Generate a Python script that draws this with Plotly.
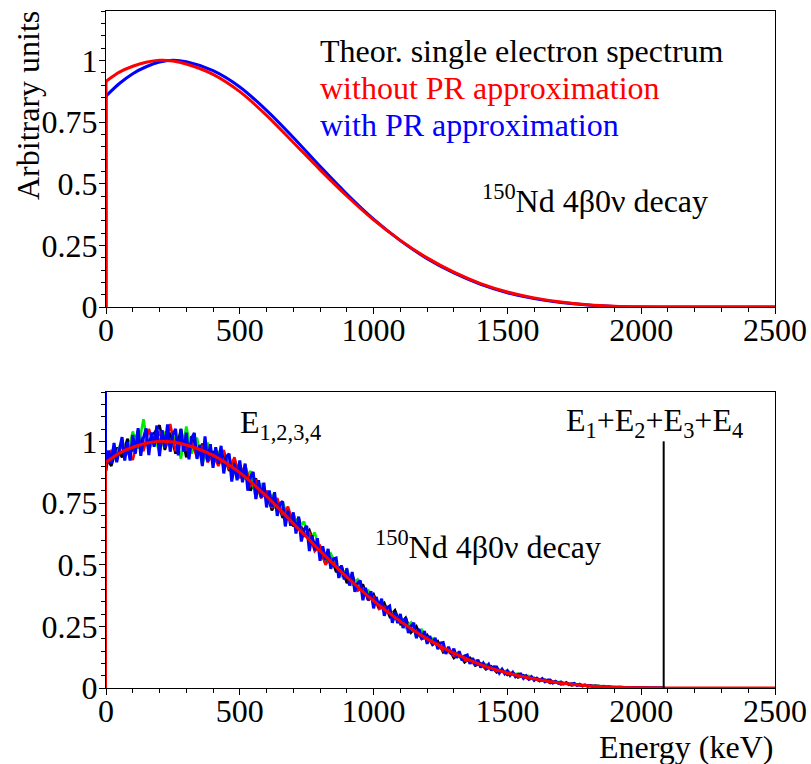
import numpy as np
import plotly.graph_objects as go

# ---------------- data ----------------
# Top panel: theoretical single-electron spectra
theory_energy_kev = [0, 50, 100, 150, 200, 250, 300, 400, 500, 600, 700, 800, 900, 1000, 1100,
                     1200, 1300, 1400, 1500, 1600, 1700, 1800, 1900, 2000, 2084, 2500]
theory_without_pr = [0.915, 0.952, 0.976, 0.992, 1.000, 0.997, 0.985, 0.943, 0.873, 0.777, 0.667,
                     0.556, 0.450, 0.353, 0.270, 0.199, 0.141, 0.095, 0.061, 0.037, 0.020, 0.009,
                     0.003, 0.0006, 0, 0]
theory_with_pr = [0.855, 0.906, 0.946, 0.974, 0.993, 1.000, 0.994, 0.958, 0.892, 0.797, 0.687,
                  0.570, 0.458, 0.356, 0.269, 0.196, 0.138, 0.092, 0.058, 0.034, 0.018, 0.008,
                  0.0025, 0.0005, 0, 0]

# Bottom panel: simulated individual electron energies E1..E3 (20 keV bins)
hist_bin_width_kev = 20
hist_e1_black = [
    0.935, 0.900, 0.975, 0.935, 1.010, 0.960, 1.045, 0.975, 1.000, 1.030,
    1.065, 0.965, 1.035, 0.950, 1.050, 0.935, 1.020, 0.945, 0.990, 0.930,
    0.960, 0.905, 0.950, 0.880, 0.925, 0.860, 0.875, 0.800, 0.850, 0.775,
    0.790, 0.720, 0.760, 0.690, 0.725, 0.655, 0.690, 0.615, 0.640, 0.580,
    0.560, 0.505, 0.535, 0.470, 0.495, 0.425, 0.460, 0.395, 0.420, 0.355,
    0.380, 0.325, 0.345, 0.290, 0.315, 0.260, 0.285, 0.225, 0.250, 0.200,
    0.215, 0.175, 0.190, 0.145, 0.160, 0.122, 0.140, 0.104, 0.122, 0.091,
    0.100, 0.076, 0.088, 0.063, 0.075, 0.053, 0.062, 0.043, 0.052, 0.035,
    0.041, 0.028, 0.034, 0.020, 0.026, 0.015, 0.020, 0.011, 0.015, 0.008,
    0.011, 0.006, 0.009, 0.004, 0.005, 0.002, 0.004, 0.001, 0.002, 0.001,
    0.001, 0.000, 0.001, 0.000, 0.000]
hist_e2_red = [
    0.900, 0.960, 0.935, 0.985, 0.960, 0.925, 1.015, 0.960, 1.050, 0.985,
    1.040, 0.975, 1.070, 0.960, 1.010, 0.970, 1.000, 0.935, 0.985, 0.915,
    0.950, 0.900, 0.965, 0.885, 0.935, 0.850, 0.905, 0.820, 0.840, 0.770,
    0.800, 0.730, 0.770, 0.700, 0.735, 0.665, 0.660, 0.625, 0.630, 0.555,
    0.575, 0.500, 0.525, 0.490, 0.475, 0.455, 0.440, 0.395, 0.405, 0.360,
    0.370, 0.320, 0.330, 0.305, 0.295, 0.265, 0.260, 0.235, 0.230, 0.200,
    0.205, 0.180, 0.180, 0.150, 0.150, 0.130, 0.128, 0.112, 0.110, 0.096,
    0.097, 0.080, 0.083, 0.068, 0.070, 0.057, 0.058, 0.046, 0.047, 0.037,
    0.039, 0.030, 0.031, 0.024, 0.025, 0.017, 0.019, 0.012, 0.014, 0.008,
    0.010, 0.006, 0.007, 0.004, 0.004, 0.003, 0.003, 0.001, 0.002, 0.001,
    0.001, 0.000, 0.000, 0.000, 0.000]
hist_e3_green = [
    0.960, 0.925, 0.950, 1.000, 0.945, 1.040, 0.970, 1.090, 0.960, 1.025,
    0.955, 1.040, 0.975, 1.020, 0.930, 1.060, 0.950, 1.015, 0.905, 0.995,
    0.925, 0.960, 0.895, 0.940, 0.870, 0.905, 0.845, 0.880, 0.770, 0.830,
    0.760, 0.780, 0.715, 0.755, 0.690, 0.705, 0.650, 0.675, 0.600, 0.630,
    0.555, 0.520, 0.545, 0.500, 0.455, 0.480, 0.420, 0.440, 0.385, 0.395,
    0.345, 0.350, 0.310, 0.320, 0.280, 0.290, 0.245, 0.265, 0.205, 0.235,
    0.190, 0.200, 0.165, 0.170, 0.145, 0.150, 0.125, 0.130, 0.108, 0.112,
    0.090, 0.096, 0.078, 0.082, 0.066, 0.070, 0.056, 0.058, 0.046, 0.049,
    0.038, 0.036, 0.030, 0.029, 0.024, 0.024, 0.017, 0.018, 0.014, 0.012,
    0.010, 0.009, 0.007, 0.006, 0.004, 0.004, 0.003, 0.002, 0.002, 0.001,
    0.001, 0.001, 0.000, 0.000, 0.000]
# E4 (blue, drawn on top) with 10 keV bins
hist_blue_bin_width_kev = 10
hist_e4_blue = [
    0.880, 0.963, 0.910, 0.993, 0.915, 0.972, 1.017, 0.922, 0.997, 0.922,
    1.026, 0.950, 1.053, 0.941, 1.014, 1.052, 0.944, 1.036, 0.978, 1.064,
    0.940, 1.045, 0.975, 1.069, 0.958, 1.027, 1.050, 0.943, 1.050, 0.958,
    1.035, 0.927, 1.013, 1.034, 0.929, 0.985, 0.900, 1.020, 0.919, 0.988,
    0.893, 0.976, 0.909, 0.982, 0.870, 0.938, 0.950, 0.837, 0.909, 0.842,
    0.923, 0.834, 0.910, 0.800, 0.856, 0.876, 0.766, 0.842, 0.772, 0.832,
    0.732, 0.801, 0.735, 0.794, 0.698, 0.747, 0.756, 0.655, 0.719, 0.658,
    0.712, 0.626, 0.695, 0.594, 0.643, 0.657, 0.555, 0.619, 0.558, 0.607,
    0.516, 0.575, 0.519, 0.564, 0.483, 0.523, 0.527, 0.446, 0.496, 0.440,
    0.485, 0.415, 0.470, 0.390, 0.425, 0.436, 0.356, 0.406, 0.357, 0.392,
    0.323, 0.369, 0.325, 0.362, 0.293, 0.325, 0.332, 0.264, 0.306, 0.263,
    0.300, 0.243, 0.285, 0.223, 0.251, 0.264, 0.202, 0.240, 0.198, 0.231,
    0.179, 0.211, 0.177, 0.203, 0.157, 0.182, 0.184, 0.138, 0.167, 0.137,
    0.159, 0.122, 0.149, 0.112, 0.130, 0.134, 0.098, 0.121, 0.094, 0.115,
    0.083, 0.101, 0.083, 0.096, 0.071, 0.086, 0.085, 0.061, 0.076, 0.058,
    0.070, 0.051, 0.064, 0.046, 0.055, 0.057, 0.039, 0.050, 0.036, 0.046,
    0.031, 0.040, 0.030, 0.038, 0.025, 0.032, 0.032, 0.020, 0.027, 0.019,
    0.024, 0.016, 0.022, 0.014, 0.018, 0.019, 0.010, 0.015, 0.009, 0.013,
    0.007, 0.010, 0.007, 0.009, 0.004, 0.007, 0.007, 0.003, 0.005, 0.002,
    0.003, 0.004, 0.002, 0.003, 0.001, 0.002, 0.002, 0.001, 0.001, 0.001,
    0.001, 0.000, 0.001, 0.000, 0.000, 0.000, 0.000, 0.000, 0.000, 0.000]
blue_first_bin_height = 1.3          # off-scale first bin of E4 histogram
sum_peak_energy_kev = 2084           # E1+E2+E3+E4 line
sum_peak_height = 1.0

# ---------------- figure ----------------
W, H = 811, 764
FONT = "Liberation Serif, Times New Roman, serif"
FS = 32
RED, BLUE, GREEN, BLACK = "#ff0000", "#0000ff", "#00ee00", "#000000"

def px(x):
    return x / W

def py(y):
    return 1 - y / H

fig = go.Figure()

# ---- top panel ----
fig.add_trace(go.Scatter(x=[theory_energy_kev[0]] * 2, y=[0, theory_with_pr[0]], mode="lines",
                         line=dict(color=BLUE, width=3), xaxis="x", yaxis="y"))
fig.add_trace(go.Scatter(x=theory_energy_kev, y=theory_with_pr, mode="lines",
                         line=dict(color=BLUE, width=3, shape="spline", smoothing=0.8),
                         xaxis="x", yaxis="y"))
fig.add_trace(go.Scatter(x=[theory_energy_kev[0]] * 2, y=[0, theory_without_pr[0]], mode="lines",
                         line=dict(color=RED, width=3), xaxis="x", yaxis="y"))
fig.add_trace(go.Scatter(x=theory_energy_kev, y=theory_without_pr, mode="lines",
                         line=dict(color=RED, width=3, shape="spline", smoothing=0.8),
                         xaxis="x", yaxis="y"))

# ---- bottom panel ----
hist_x = np.arange(len(hist_e1_black)) * hist_bin_width_kev
for series, col in [(hist_e1_black, BLACK), (hist_e3_green, GREEN), (hist_e2_red, RED)]:
    fig.add_trace(go.Scatter(x=hist_x, y=series, mode="lines",
                             line=dict(color=col, width=2.6), xaxis="x2", yaxis="y2"))
hist_x_blue = np.arange(len(hist_e4_blue)) * hist_blue_bin_width_kev
fig.add_trace(go.Scatter(x=hist_x_blue, y=hist_e4_blue, mode="lines",
                         line=dict(color=BLUE, width=3), xaxis="x2", yaxis="y2"))
fig.add_trace(go.Scatter(x=[0, 0], y=[0, blue_first_bin_height], mode="lines",
                         line=dict(color=BLUE, width=2), xaxis="x2", yaxis="y2"))
fig.add_trace(go.Scatter(x=[0, 0], y=[0, theory_without_pr[0]], mode="lines",
                         line=dict(color=RED, width=2), xaxis="x2", yaxis="y2"))
fig.add_trace(go.Scatter(x=theory_energy_kev, y=theory_without_pr, mode="lines",
                         line=dict(color=RED, width=3, shape="spline", smoothing=0.8),
                         xaxis="x2", yaxis="y2"))
fig.add_trace(go.Scatter(x=[sum_peak_energy_kev] * 2, y=[0, sum_peak_height], mode="lines",
                         line=dict(color=BLACK, width=2), xaxis="x2", yaxis="y2"))

tickfont = dict(family=FONT, size=FS, color="black")

def xaxis_cfg(anchor):
    return dict(range=[0, 2500], tick0=0, dtick=500, ticks="outside", ticklen=6, tickwidth=1,
                tickcolor="black", minor=dict(dtick=100, ticks="outside", ticklen=4,
                                              tickcolor="black", tickwidth=1),
                showline=True, linecolor="black", linewidth=1, mirror=True, showgrid=False,
                zeroline=False, tickfont=tickfont, anchor=anchor, layer="below traces",
                automargin=False, ticklabelstandoff=-11,
                domain=[px(106), px(775)])

def yaxis_cfg(anchor, dom):
    return dict(range=[0, 1.2], tick0=0, dtick=0.25, ticks="outside", ticklen=6, tickwidth=1,
                tickcolor="black", minor=dict(dtick=0.05, ticks="outside", ticklen=4,
                                              tickcolor="black", tickwidth=1),
                showline=True, linecolor="black", linewidth=1, mirror=True, showgrid=False,
                zeroline=False, tickfont=tickfont, anchor=anchor, layer="below traces",
                automargin=False, ticklabelstandoff=-5, domain=dom)

ann = []

def text(s, x, y, color="black", xanchor="left", size=FS, angle=0):
    ann.append(dict(text=s, x=px(x), y=py(y), xref="paper", yref="paper", showarrow=False,
                    xanchor=xanchor, yanchor="middle", textangle=angle,
                    font=dict(family=FONT, size=size, color=color)))

text("Theor. single electron spectrum", 318, 51)
text("without PR approximation", 318, 88, RED)
text("with PR approximation", 318, 125, BLUE)
text("<sup>150</sup>Nd 4β0ν decay", 480, 199)
text("E<sub>1,2,3,4</sub>", 238, 425)
text("<sup>150</sup>Nd 4β0ν decay", 373, 545)
text("E<sub>1</sub>+E<sub>2</sub>+E<sub>3</sub>+E<sub>4</sub>", 564, 422)
text("Arbitrary units", 8, 106, angle=-90)
text("Energy (keV)", 775, 747, xanchor="right")

fig.update_layout(
    width=W, height=H, margin=dict(l=0, r=0, t=0, b=0, autoexpand=False),
    paper_bgcolor="white", plot_bgcolor="white", showlegend=False,
    xaxis=xaxis_cfg("y"), yaxis=yaxis_cfg("x", [py(307), py(11)]),
    xaxis2=xaxis_cfg("y2"), yaxis2=yaxis_cfg("x2", [py(688), py(392)]),
    annotations=ann,
)

fig.write_html("out.html", config={"displayModeBar": False},
               post_script="document.body.style.margin='0px';"
                           "document.body.style.overflow='hidden';")
